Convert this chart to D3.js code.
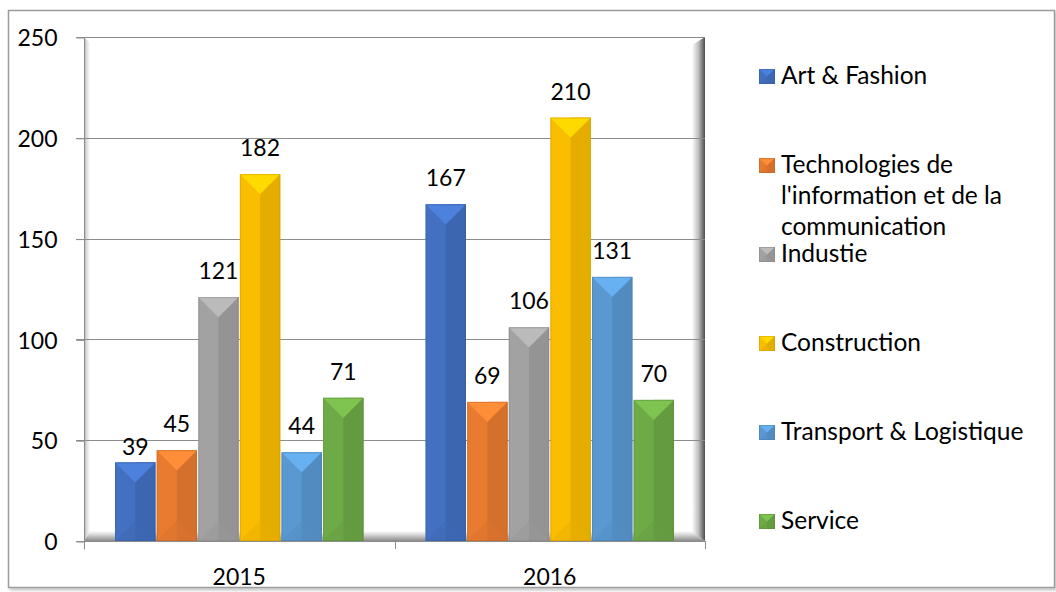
<!DOCTYPE html>
<html>
<head>
<meta charset="utf-8">
<script src="https://cdn.jsdelivr.net/npm/d3@7"></script>
<style>
  body { margin: 0; background: #fff; }
  svg { display: block; font-family: Lato, "Open Sans", sans-serif; }
</style>
</head>
<body>
<svg id="chart"></svg>
<script>
const years = ["2015", "2016"];
const categories = ["Art & Fashion", "Technologies de l'information et de la communication", "Industie", "Construction", "Transport & Logistique", "Service"];
const values2015 = [39, 45, 121, 182, 44, 71];
const values2016 = [167, 69, 106, 210, 131, 70];
const yTicks = [0, 50, 100, 150, 200, 250];
const colors = ["#4472C4", "#ED7D31", "#A5A5A5", "#FFC000", "#5B9BD5", "#70AD47"];

const W = 1056, H = 592;
const plot = { left: 84, right: 705, top: 37, bottom: 541 };
const fontSize = 23;
const legendFont = 24.5;

const svg = d3.select("#chart").attr("width", W).attr("height", H);
const defs = svg.append("defs");

// outer frame with a soft shadow
const sh = defs.append("filter").attr("id", "shadow").attr("x", "-5%").attr("y", "-5%").attr("width", "110%").attr("height", "110%");
sh.append("feDropShadow").attr("dx", 2).attr("dy", 2).attr("stdDeviation", 1.5).attr("flood-color", "#000").attr("flood-opacity", 0.25);
svg.append("rect")
    .attr("x", 8.5).attr("y", 10.5).attr("width", 1046).attr("height", 577)
    .attr("fill", "#fff").attr("stroke", "#9c9c9c").attr("stroke-width", 1.5)
    .attr("filter", "url(#shadow)");

const y = d3.scaleLinear().domain([0, 250]).range([plot.bottom, plot.top]);
const x0 = d3.scaleBand().domain(years).range([plot.left, plot.right]);
const x1 = d3.scaleBand().domain(categories)
    .range([x0.bandwidth() * 0.1, x0.bandwidth() * 0.9]).paddingInner(0.03);

// gradients for the 3D walls
function linGrad(id, x2, y2, stops) {
    const g = defs.append("linearGradient").attr("id", id)
        .attr("x1", 0).attr("y1", 0).attr("x2", x2).attr("y2", y2);
    stops.forEach(s => g.append("stop").attr("offset", s[0]).attr("stop-color", s[1]));
}
linGrad("leftWall", 1, 0, [[0, "#a8a8a8"], [0.4, "#d9d9d9"], [1, "#ffffff"]]);
linGrad("rightWall", 1, 0, [[0, "#ffffff"], [0.5, "#bdbdbd"], [1, "#4d4d4d"]]);
linGrad("floor", 0, 1, [[0, "#ffffff"], [0.5, "#c8c8c8"], [1, "#8a8a8a"]]);

const walls = svg.append("g");
walls.append("polygon")
    .attr("points", `${plot.left},${plot.top} ${plot.left + 6},${plot.top + 6} ${plot.left + 6},${plot.bottom - 8} ${plot.left},${plot.bottom}`)
    .attr("fill", "url(#leftWall)");
walls.append("polygon")
    .attr("points", `${plot.left},${plot.bottom} ${plot.left + 6},${plot.bottom - 10} ${plot.right - 12},${plot.bottom - 10} ${plot.right},${plot.bottom}`)
    .attr("fill", "url(#floor)");
walls.append("polygon")
    .attr("points", `${plot.right - 13},${plot.top + 8} ${plot.right},${plot.top} ${plot.right},${plot.bottom} ${plot.right - 13},${plot.bottom - 10}`)
    .attr("fill", "url(#rightWall)");

// gridlines
svg.append("g").selectAll("line")
    .data(yTicks)
    .join("line")
    .attr("x1", plot.left - 8).attr("x2", plot.right)
    .attr("y1", d => Math.round(y(d)) + 0.5).attr("y2", d => Math.round(y(d)) + 0.5)
    .attr("stroke", "#8c8c8c").attr("stroke-width", 1);

// y axis
const yAxis = svg.append("g")
    .attr("transform", `translate(${plot.left + 0.5},0.5)`)
    .call(d3.axisLeft(y).tickValues(yTicks).tickSize(8).tickPadding(19));
yAxis.select(".domain").attr("stroke", "#8c8c8c").attr("d", `M0,${plot.top}V${plot.bottom + 8}`);
yAxis.selectAll(".tick line").attr("stroke", "#8c8c8c");
yAxis.selectAll(".tick text").attr("font-size", fontSize).attr("fill", "#000")
    .attr("font-family", "Lato, sans-serif").attr("dy", "0.36em");

// x axis: boundary ticks below the floor + labels
const bounds = [...years.slice(1).map(d => x0(d)), plot.right];
svg.append("g").selectAll("line")
    .data(bounds)
    .join("line")
    .attr("x1", d => Math.round(d) + 0.5).attr("x2", d => Math.round(d) + 0.5)
    .attr("y1", plot.bottom).attr("y2", plot.bottom + 8)
    .attr("stroke", "#8c8c8c");
svg.append("g").selectAll("text")
    .data(years)
    .join("text")
    .attr("x", d => x0(d) + x0.bandwidth() / 2)
    .attr("y", plot.bottom + 44)
    .attr("text-anchor", "middle")
    .attr("font-size", fontSize)
    .text(d => d);

// bevelled bar
function bevel(g, x, yTop, w, h, color) {
    const c = d3.color(color);
    const d = Math.min(w / 2, h / 2);
    g.append("rect").attr("x", x).attr("y", yTop).attr("width", w).attr("height", h)
        .attr("fill", c.darker(0.05));
    g.append("rect").attr("x", x + w / 2).attr("y", yTop).attr("width", w / 2).attr("height", h)
        .attr("fill", c.darker(0.3));
    g.append("polygon")
        .attr("points", `${x},${yTop} ${x + w},${yTop} ${x + w / 2},${yTop + d}`)
        .attr("fill", c.brighter(0.35));
    g.append("polygon")
        .attr("points", `${x},${yTop + h} ${x + w},${yTop + h} ${x + w / 2},${yTop + h - d}`)
        .attr("fill", c.darker(0.25)).attr("opacity", 0.5);
    g.append("rect").attr("x", x + 0.5).attr("y", yTop + 0.5).attr("width", w - 1).attr("height", h - 1)
        .attr("fill", "none").attr("stroke", c.darker(0.6)).attr("stroke-opacity", 0.5);
}

const series = { "2015": values2015, "2016": values2016 };
const bars = svg.append("g");
const labelNudge = { "2015|Art & Fashion": 11 };
years.forEach(yr => {
    series[yr].forEach((v, i) => {
        const cat = categories[i];
        const bx = x0(yr) + x1(cat);
        const g = bars.append("g");
        bevel(g, bx, y(v), x1.bandwidth(), y(0) - y(v), colors[i]);
        bars.append("text")
            .attr("x", bx + x1.bandwidth() / 2)
            .attr("y", y(v) - 18 + (labelNudge[yr + "|" + cat] || 0))
            .attr("text-anchor", "middle")
            .attr("font-size", fontSize)
            .text(v);
    });
});

// legend
function wrap(text, width) {
    text.each(function () {
        const t = d3.select(this);
        const words = t.text().split(/\s+/);
        let line = [];
        let tspan = t.text(null).append("tspan").attr("x", t.attr("x"));
        words.forEach(w => {
            line.push(w);
            tspan.text(line.join(" "));
            if (tspan.node().getComputedTextLength() > width && line.length > 1) {
                line.pop();
                tspan.text(line.join(" "));
                line = [w];
                tspan = t.append("tspan").attr("x", t.attr("x")).attr("dy", 31).text(w);
            }
        });
    });
}
const legend = svg.append("g").attr("transform", "translate(759,69)");
categories.forEach((cat, i) => {
    const g = legend.append("g").attr("transform", `translate(0,${i * 89})`);
    bevel(g, 0, 0, 16, 15, colors[i]);
    g.append("text")
        .attr("x", 22).attr("y", 15)
        .attr("font-size", legendFont)
        .text(cat)
        .call(wrap, 262);
});
</script>
</body>
</html>
